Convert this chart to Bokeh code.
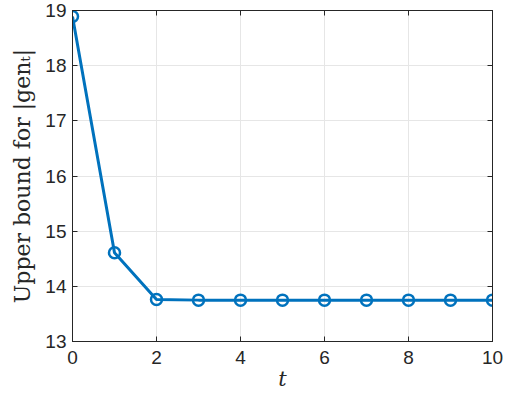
from bokeh.plotting import figure
from bokeh.models import Range1d, FixedTicker, LinearAxis, CustomJSTickFormatter
from bokeh.embed import file_html
from bokeh.resources import INLINE

t = [0, 1, 2, 3, 4, 5, 6, 7, 8, 9, 10]
bound = [18.89, 14.61, 13.76, 13.75, 13.75, 13.75, 13.75, 13.75, 13.75, 13.75, 13.75]
x_ticks = [0, 2, 4, 6, 8, 10]
y_ticks = [13, 14, 15, 16, 17, 18, 19]

BLUE = "#0072BD"
DARK = "#262626"

p = figure(width=508, height=410, output_backend="svg", toolbar_location=None,
           x_range=Range1d(0, 10), y_range=Range1d(13, 19),
           min_border_left=72, min_border_right=16, min_border_top=10, min_border_bottom=69)
p.background_fill_color = "white"
p.border_fill_color = "white"
p.outline_line_color = DARK
p.outline_line_width = 1

for ax in (p.xaxis[0], p.yaxis[0]):
    ax.axis_line_color = DARK
    ax.major_tick_line_color = DARK
    ax.major_tick_in = 5
    ax.major_tick_out = 0
    ax.minor_tick_line_color = None
    ax.major_label_text_font = "Liberation Sans"
    ax.major_label_text_font_size = "19px"
    ax.major_label_text_color = DARK
    ax.axis_label_text_font = "DejaVu Serif"
    ax.axis_label_text_font_style = "normal"
    ax.axis_label_text_color = DARK

p.xaxis.ticker = FixedTicker(ticks=x_ticks)
p.yaxis.ticker = FixedTicker(ticks=y_ticks)
p.xaxis.major_label_standoff = 9
p.yaxis.major_label_standoff = 6
p.xaxis.axis_label = "t"
p.xaxis.axis_label_text_font_style = "italic"
p.xaxis.axis_label_text_font_size = "21px"
p.xaxis.axis_label_standoff = 0
p.yaxis.axis_label = "Upper bound for |genₜ|"
p.yaxis.axis_label_text_font_size = "22px"
p.yaxis.axis_label_standoff = 7

blank = CustomJSTickFormatter(code="return ''")
top = LinearAxis(ticker=FixedTicker(ticks=x_ticks), formatter=blank,
                 major_tick_in=5, major_tick_out=0, major_label_standoff=0,
                 minor_tick_line_color=None, axis_line_color=DARK, major_tick_line_color=DARK)
right = LinearAxis(ticker=FixedTicker(ticks=y_ticks), formatter=blank,
                   major_tick_in=5, major_tick_out=0, major_label_standoff=0,
                   minor_tick_line_color=None, axis_line_color=DARK, major_tick_line_color=DARK)
p.add_layout(top, "above")
p.add_layout(right, "right")

p.xgrid.ticker = FixedTicker(ticks=x_ticks)
p.ygrid.ticker = FixedTicker(ticks=y_ticks)
p.grid.grid_line_color = "#e6e6e6"
p.grid.grid_line_width = 1

p.line(t, bound, line_color=BLUE, line_width=3)
p.scatter(t, bound, marker="circle", size=11, fill_color=None, line_color=BLUE, line_width=2.5)

open("out.html", "w").write(file_html(p, INLINE))
